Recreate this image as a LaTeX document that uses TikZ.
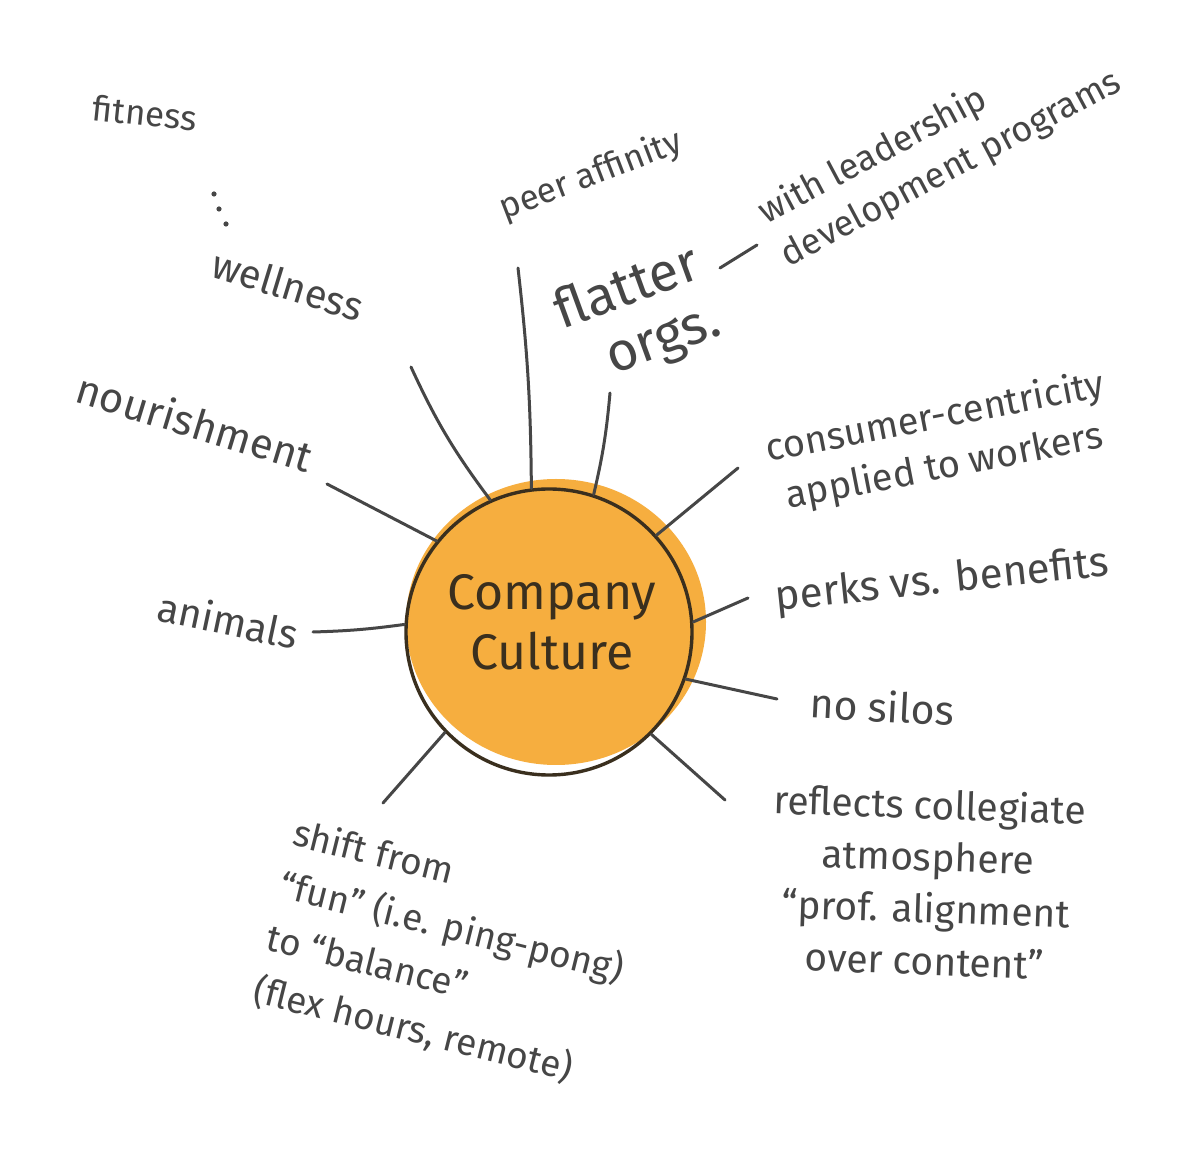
\documentclass[tikz,border=0pt]{standalone}
\usepackage{fontspec}
\setmainfont{Fira Sans}
\definecolor{ink}{HTML}{464646}
\definecolor{sun}{HTML}{F6AE3F}
\definecolor{rim}{HTML}{3A2F1E}
\tikzset{
  lbl/.style={text=ink, align=center, inner sep=1pt},
  link/.style={draw=ink, line width=1.5pt, line cap=round},
}
\begin{document}
\begin{tikzpicture}[x=0.5pt, y=-0.5pt, >=stealth, thick]
\useasboundingbox[fill=white] (0,0) rectangle (1200,1149);
\fill[sun] (556,622) ellipse [x radius=75pt, y radius=71.5pt];
\node[draw=rim, line width=1.7pt, circle, minimum size=143pt, inner sep=0pt] (core) at (549,632) {};
\node[text=rim, align=center, font=\fontsize{25}{30}\selectfont] (title) at (552,622) {Company\\Culture};

\node[lbl, rotate=-6, font=\fontsize{17.5}{20}\selectfont] (fit) at (145,113) {fitness};
\fill[ink] (214,194) circle (1.3pt) (219,209) circle (1.3pt) (226,224) circle (1.3pt);
\node[lbl, rotate=-17, font=\fontsize{20}{24}\selectfont] (well) at (288,285) {wellness};
\node[lbl, rotate=21, font=\fontsize{17.5}{20}\selectfont] (peer) at (591,176) {peer affinity};
\node[lbl, rotate=20, align=right, font=\fontsize{27}{30}\selectfont] (flat) at (638,318) {flatter\\orgs.};
\node[lbl, rotate=28, align=left, font=\fontsize{18}{24}\selectfont] (lead) at (940,148) {with leadership\\development programs};
\node[lbl, rotate=11, font=\fontsize{19}{25}\selectfont] (cons) at (940,443) {consumer-centricity\\applied to workers};
\node[lbl, rotate=6, font=\fontsize{21}{24}\selectfont] (perk) at (942,582) {perks vs. benefits};
\node[lbl, rotate=-3, font=\fontsize{20.5}{24}\selectfont] (silo) at (882,706) {no silos};
\node[lbl, rotate=-2, font=\fontsize{19.5}{26}\selectfont] (refl) at (927,882) {reflects collegiate\\atmosphere\\“prof. alignment\\over content”};
\node[lbl, rotate=-14, align=left, font=\fontsize{18.5}{27}\selectfont] (shift) at (445,955) {shift from\\“fun” (i.e. ping-pong)\\to “balance”\\(flex hours, remote)};
\node[lbl, rotate=-17, font=\fontsize{21}{24}\selectfont] (nour) at (195,422) {nourishment};
\node[lbl, rotate=-12, font=\fontsize{20}{24}\selectfont] (anim) at (228,620) {animals};

\coordinate (e-well) at (411,367);
\coordinate (e-peer) at (518,268);
\coordinate (e-flat) at (610,393);
\coordinate (e-cons) at (738,468);
\coordinate (e-perk) at (748,598);
\coordinate (e-silo) at (777,699);
\coordinate (e-refl) at (725,800);
\coordinate (e-shift) at (383,803);
\coordinate (e-anim) at (313,632);
\coordinate (e-nour) at (327,484);
\coordinate (d-flat) at (720,268);
\coordinate (d-lead) at (757,245);

\draw[link] (core.114) to[bend left=6] (e-well);
\draw[link] (core.97) to[bend right=3] (e-peer);
\draw[link] (core.72) to[bend right=4] (e-flat);
\draw[link] (core.42) -- (e-cons);
\draw[link] (core.4) -- (e-perk);
\draw[link] (core.-19) -- (e-silo);
\draw[link] (core.-45) -- (e-refl);
\draw[link] (core.224) -- (e-shift);
\draw[link] (core.177) to[bend left=3] (e-anim);
\draw[link] (core.141) -- (e-nour);
\draw[link] (d-flat) -- (d-lead);
\end{tikzpicture}
\end{document}
